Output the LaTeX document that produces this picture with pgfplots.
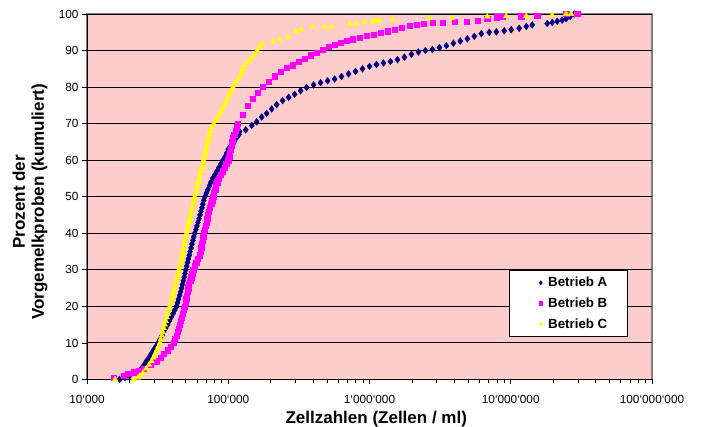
\documentclass[border=0pt]{standalone}
\usepackage{fontspec}
\setmainfont{Liberation Sans}
\usepackage{pgfplots}
\pgfplotsset{compat=1.18}
\usepackage{pgfplotstable}
\definecolor{bgpink}{RGB}{255,204,204}
\definecolor{navyA}{RGB}{0,0,128}
\definecolor{magB}{RGB}{255,0,255}
\definecolor{yelC}{RGB}{255,255,0}
\newcommand{\gr}{\char"60\relax}

\pgfplotstableread{
x y
17000 0
18600 0.5
20000 1
22400 2
24300 3
25400 4
26300 5
27500 6
28500 7
29500 8
30700 9
31900 10
32900 11
33900 12
34900 13
36000 14
37200 15
38300 16
39400 17
40600 18
41800 19
43100 20
43800 21
44500 22
45300 23
46000 24
46800 25
47400 26
48100 27
48800 28
49400 29
50100 30
50800 31
51500 32
52200 33
53000 34
53700 35
54600 36
55300 37
56200 38
57000 39
57900 40
58900 41
60000 42
61000 43
62100 44
63100 45
64100 46
65200 47
66100 48
67100 49
68200 50
70000 51
71800 52
73600 53
75500 54
77600 55
80400 56
83200 57
85900 58
88700 59
91800 60
95100 61
97700 62
100000 63
104700 64
109600 65
113500 66
118900 67
120500 67.8
133000 68.3
146600 69.5
158900 70.5
172500 71.8
187100 72.8
202900 74.0
220300 75.2
242700 76.3
267700 77.2
295100 78.0
325300 79.0
358600 79.9
401800 80.6
450600 81.2
505000 81.7
566200 82.2
633900 82.9
710700 83.6
796200 84.3
892500 85.0
1000000 85.7
1120000 86.2
1256000 86.6
1407000 87.0
1577000 87.5
1767000 88.2
1981000 89.0
2219000 89.6
2488000 90.0
2787000 90.3
3126000 90.8
3499000 91.3
3926000 92.0
4395000 92.6
4932000 93.2
5521000 93.9
6194000 94.6
7047000 95.0
7907000 95.1
8995000 95.4
10080000 95.7
11480000 96.1
12880000 96.6
14190000 97.0
18110000 97.4
19650000 97.7
21330000 98.0
23120000 98.3
24660000 98.7
26350000 99.3
28120000 100
}\dataA

\pgfplotstableread{
x y
15500 0.5
18100 1
19500 1.5
21400 2
23400 2.5
25100 3
28200 4
30900 5
33100 6
35100 7
37200 8
39100 9
41200 10
42000 11
42900 12
43700 13
44600 14
45400 15
46100 16
46900 17
47600 18
48500 19
49300 20
49900 21
50400 22
50900 23
51400 24
52000 25
52800 26
53700 27
54600 28
55500 29
56400 30
57800 31
59300 32
60800 33
62400 34
63500 35
64300 36
65000 37
65600 38
66400 39
67100 40
68100 41
69000 42
70000 43
71000 44
71900 45
73100 46
74300 47
75700 48
76900 49
78200 50
79400 51
80800 52
82000 53
83400 54
85100 55
87900 56
90800 57
93800 58
96800 59
100000 60
101400 61
102800 62
104200 63
105400 64
106700 65
107900 66
110200 67
112700 68
115100 69
116700 70
126600 72.5
137300 74.8
149000 76.8
161600 78.5
175400 80.0
193300 81.5
213100 83.0
235000 84.2
259100 85.2
285700 86.0
315000 86.9
347300 87.8
382800 88.7
422100 89.5
465400 90.2
513100 91.0
566200 91.6
624200 92.2
688100 92.7
758600 93.1
849900 93.5
952400 94.0
1067000 94.4
1196000 94.9
1341000 95.3
1502000 95.7
1683000 96.2
1918000 96.7
2148000 97.1
2409000 97.4
2787000 97.6
3281000 97.6
3990000 97.8
4853000 98.0
5798000 98.2
6823000 98.8
7907000 99.1
8710000 99.3
11860000 99.4
15390000 99.6
24660000 100
29510000 100
}\dataB

\pgfplotstableread{
x y
15800 0
21400 0
22900 0.5
23700 1
24900 1.8
26300 3
27500 4
28600 5
29500 6
30300 7
31200 8
32000 9
32800 10
33300 11
33900 12
34400 13
35000 14
35600 15
36100 16
36700 17
37300 18
38000 19
38600 20
39300 21
39900 22
40600 23
41200 24
41900 25
42500 26
43100 27
43800 28
44400 29
45000 30
45600 31
46100 32
46800 33
47300 34
48000 35
48500 36
49100 37
49500 38
50100 39
50700 40
51400 41
52100 42
52800 43
53600 44
54300 45
55100 46
55700 47
56500 48
57100 49
57900 50
58700 51
59700 52
60500 53
61400 54
62200 55
63200 56
64100 57
65200 58
66100 59
67100 60
67900 61
68900 62
69700 63
70600 64
71600 65
72400 66
73500 67
74600 68
75900 69
79100 70
82600 71
85100 72
87700 73
90800 74
93300 75
96200 76
98900 77
101900 78
105000 79
108100 80
112200 81
116900 82
121600 83
124200 84
126500 85
131200 86
139600 87
146200 88
153100 89
160300 90
167100 91
174600 91.9
207500 92.4
231200 93.1
264800 93.8
303400 95.2
328900 95.8
397200 96.4
480800 96.5
535800 96.5
722800 97.3
805400 97.4
922600 97.9
1054000 97.9
1114000 98.2
1178000 98.2
1455000 98.5
2655000 98.8
3864000 98.8
6823000 99.3
9290000 99.4
12880000 99.4
19630000 99.7
24660000 100
26790000 100
}\dataC

\begin{document}
\begin{tikzpicture}
\begin{axis}[
  at={(0,0)}, anchor=south west,
  scale only axis, width=565pt, height=365.5pt,
  xmode=log, xmin=1e4, xmax=1e8, ymin=0, ymax=100,
  axis lines=left, axis line style={-, black, line width=1pt},
  axis background/.style={fill=bgpink, draw=gray, line width=1.2pt},
  ytick={0,10,...,100},
  ymajorgrids, major grid style={black, line width=0.9pt},
  xtick={1e4,1e5,1e6,1e7,1e8},
  xticklabels={10\gr000, 100\gr000, 1\gr000\gr000, 10\gr000\gr000, 100\gr000\gr000},
  minor xtick={2e4,3e4,4e4,5e4,6e4,7e4,8e4,9e4,2e5,3e5,4e5,5e5,6e5,7e5,8e5,9e5,2e6,3e6,4e6,5e6,6e6,7e6,8e6,9e6,2e7,3e7,4e7,5e7,6e7,7e7,8e7,9e7},
  tick align=outside, major tick length=5pt, minor tick length=4pt,
  tick style={black, line width=0.8pt},
  ticklabel style={font=\fontsize{11.8}{14}\selectfont},
  xticklabel style={yshift=-7pt},
  /pgf/number format/assume math mode=true,
  xlabel={Zellzahlen (Zellen / ml)},
  xlabel style={font=\fontsize{17}{20}\selectfont\bfseries, at={(axis description cs:0.512,0)}, anchor=base, yshift=-44.5pt},
  ylabel={Prozent der\\Vorgemelkproben (kumuliert)},
  ylabel style={font=\fontsize{17}{19}\selectfont\bfseries, align=center, inner sep=0pt, at={(axis description cs:-0.0697,0.486)}, anchor=south},
  clip=false,
  legend style={at={(axis description cs:0.7469,0.1163)}, anchor=south west, draw=black, line width=0.8pt, fill=white, font=\fontsize{13.3}{15}\selectfont\bfseries, inner xsep=18pt, inner ysep=5pt, row sep=5.5pt, nodes={inner sep=2pt}, cells={anchor=west}},
  legend image code/.code={\path (-13pt,0pt) (5pt,0pt); \draw[mark repeat=2,mark phase=2,#1,mark size=1.8pt] plot coordinates {(-4pt,0pt) (0pt,0pt) (4pt,0pt)};},
]
\addplot[only marks, mark=diamond*, mark size=3.4pt, color=navyA] table {\dataA};
\addlegendentry{Betrieb A}
\addplot[only marks, mark=square*, mark size=2.6pt, color=magB] table {\dataB};
\addlegendentry{Betrieb B}
\addplot[only marks, mark=triangle*, mark size=3.2pt, color=yelC] table {\dataC};
\addlegendentry{Betrieb C}
\end{axis}
\pgfresetboundingbox
\path[use as bounding box] (-87pt,-47.5pt) rectangle (617pt,379.5pt);
\end{tikzpicture}
\end{document}
